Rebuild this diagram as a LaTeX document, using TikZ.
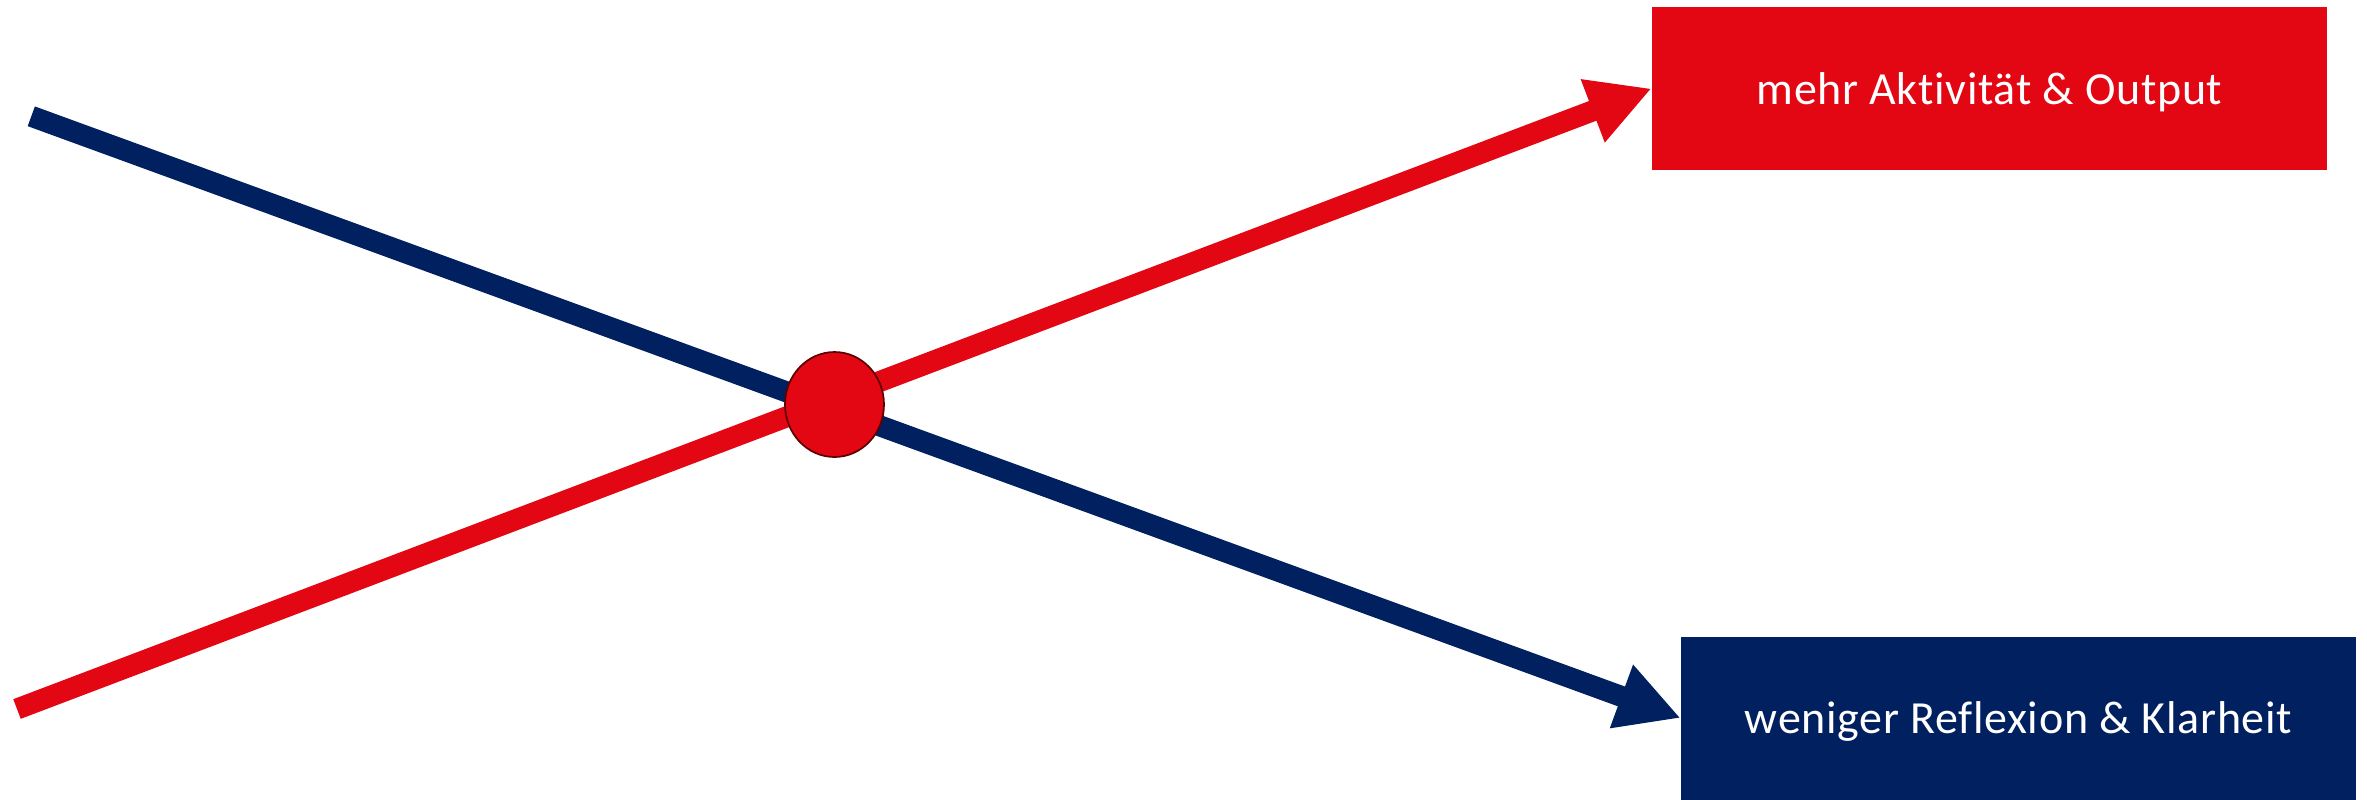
\documentclass[tikz,border=0pt]{standalone}
\usepackage{fontspec}
\setmainfont{Carlito}[Ligatures=NoCommon, LetterSpace=1.5]
\usetikzlibrary{shapes.geometric, arrows.meta, positioning}
\definecolor{signalred}{HTML}{E30613}
\definecolor{navyblue}{HTML}{002060}
\definecolor{darkrim}{HTML}{5C0000}

\begin{document}
\begin{tikzpicture}[
    x=0.5pt, y=-0.5pt,
    outbox/.style={rectangle, minimum width=337.5pt, minimum height=81.5pt, inner sep=0pt, text depth=0pt, font=\fontsize{23}{27}\selectfont, text=white},
    trend/.style={line width=10.5pt, -{Triangle[length=31.5pt, width=31.5pt]}},
    hub/.style={ellipse, draw=darkrim, line width=0.85pt, fill=signalred, minimum width=49.5pt, minimum height=52.5pt, inner sep=0pt},
]
\useasboundingbox (0,0) rectangle (2367,799);

% Output boxes
\node[outbox, fill=signalred] (more) at (1989.5, 88.5) {mehr Aktivität \& Output};
\node[outbox, fill=navyblue] (less) at (2018.5, 718) {weniger Reflexion \& Klarheit};

% Line starts
\coordinate (lessstart) at (31.3, 116.3);
\coordinate (morestart) at (17, 709);

% Crossing lines
\draw[trend, navyblue] (lessstart) -- (less.west);
\draw[trend, signalred] (morestart) -- (more.west);

% Crossing point
\node[hub] (cross) at (834.5, 404.5) {};
\end{tikzpicture}
\end{document}
